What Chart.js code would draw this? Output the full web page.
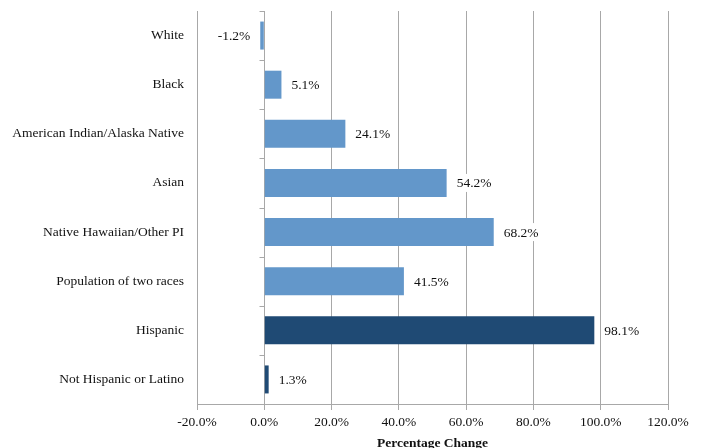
<!DOCTYPE html>
<html>
<head>
<meta charset="utf-8">
<script src="https://cdn.jsdelivr.net/npm/chart.js@4/dist/chart.umd.min.js"></script>
<style>
  html, body { margin: 0; padding: 0; background: #fff; overflow: hidden; }
  canvas { display: block; }
</style>
</head>
<body>
<canvas id="c" width="701" height="456"></canvas>
<script>
// Percentage change in population by race / ethnicity
const categories = [
  'White',
  'Black',
  'American Indian/Alaska Native',
  'Asian',
  'Native Hawaiian/Other PI',
  'Population of two races',
  'Hispanic',
  'Not Hispanic or Latino'
];
const changeValues = [-1.2, 5.1, 24.1, 54.2, 68.2, 41.5, 98.1, 1.3];
const raceColor = '#6397ca';
const ethnicityColor = '#1f4a74';
const barColors = [raceColor, raceColor, raceColor, raceColor, raceColor, raceColor, ethnicityColor, ethnicityColor];
const xTickMin = -20;
const xTickMax = 120;
const xTickStep = 20;
const axisTitle = 'Percentage Change';

const gridGray = '#a8a8a8';
const serif = "'Liberation Serif', 'Times New Roman', serif";
const fontSize = 13.5;

// Vertical axis line at 0% with small tick marks between categories
const zeroAxisPlugin = {
  id: 'zeroAxis',
  beforeDatasetsDraw(chart) {
    const { ctx, chartArea, scales } = chart;
    const x = Math.round(scales.x.getPixelForValue(0)) + 0.5;
    ctx.save();
    ctx.strokeStyle = gridGray;
    ctx.lineWidth = 1;
    ctx.beginPath();
    ctx.moveTo(x, chartArea.top);
    ctx.lineTo(x, chartArea.bottom);
    const n = categories.length;
    const band = (chartArea.bottom - chartArea.top) / n;
    for (let i = 0; i <= n; i++) {
      const y = Math.round(chartArea.top + i * band) + 0.5;
      ctx.moveTo(x - 5, y);
      ctx.lineTo(x, y);
    }
    ctx.stroke();
    ctx.restore();
  }
};

// Value labels beside each bar end, on a white box
const valueLabelPlugin = {
  id: 'valueLabels',
  afterDatasetsDraw(chart) {
    const { ctx } = chart;
    const meta = chart.getDatasetMeta(0);
    ctx.save();
    ctx.font = fontSize + 'px ' + serif;
    ctx.textBaseline = 'middle';
    meta.data.forEach((bar, i) => {
      const v = changeValues[i];
      const text = v.toFixed(1) + '%';
      const w = ctx.measureText(text).width;
      const gap = 10;
      let left;
      if (v >= 0) {
        left = bar.x + gap;
      } else {
        left = bar.x - gap - w;
      }
      ctx.fillStyle = '#ffffff';
      ctx.fillRect(left - 3, bar.y - 9, w + 6, 18);
      ctx.fillStyle = '#111111';
      ctx.textAlign = 'left';
      ctx.fillText(text, left, bar.y + 1);
    });
    ctx.restore();
  }
};

new Chart(document.getElementById('c'), {
  type: 'bar',
  data: {
    labels: categories,
    datasets: [{
      data: changeValues,
      backgroundColor: barColors,
      borderWidth: 0,
      categoryPercentage: 1.0,
      barPercentage: 0.57
    }]
  },
  options: {
    indexAxis: 'y',
    responsive: false,
    animation: false,
    devicePixelRatio: 1,
    layout: { padding: { top: 11, right: 33, bottom: 0, left: 0 } },
    plugins: {
      legend: { display: false },
      tooltip: { enabled: false }
    },
    scales: {
      x: {
        min: xTickMin,
        max: xTickMax,
        ticks: {
          stepSize: xTickStep,
          padding: 4,
          color: '#111111',
          font: { family: serif, size: fontSize },
          callback: (v) => Number(v).toFixed(1) + '%'
        },
        grid: {
          color: gridGray,
          lineWidth: 1,
          drawTicks: true,
          tickLength: 6,
          tickColor: gridGray
        },
        border: { display: true, color: gridGray, width: 1 },
        title: {
          display: true,
          text: axisTitle,
          color: '#111111',
          font: { family: serif, size: fontSize, weight: 'bold' },
          padding: { top: 0, bottom: 4 }
        },
        afterFit(scale) {
          scale.height = 52;
          scale.paddingLeft = 0;
          scale.paddingRight = 0;
        }
      },
      y: {
        ticks: {
          padding: 13,
          color: '#111111',
          font: { family: serif, size: fontSize }
        },
        grid: { display: false, drawTicks: false },
        border: { display: false },
        afterFit(scale) {
          scale.width = 197;
          scale.paddingTop = 0;
          scale.paddingBottom = 0;
        }
      }
    }
  },
  plugins: [zeroAxisPlugin, valueLabelPlugin]
});
</script>
</body>
</html>
